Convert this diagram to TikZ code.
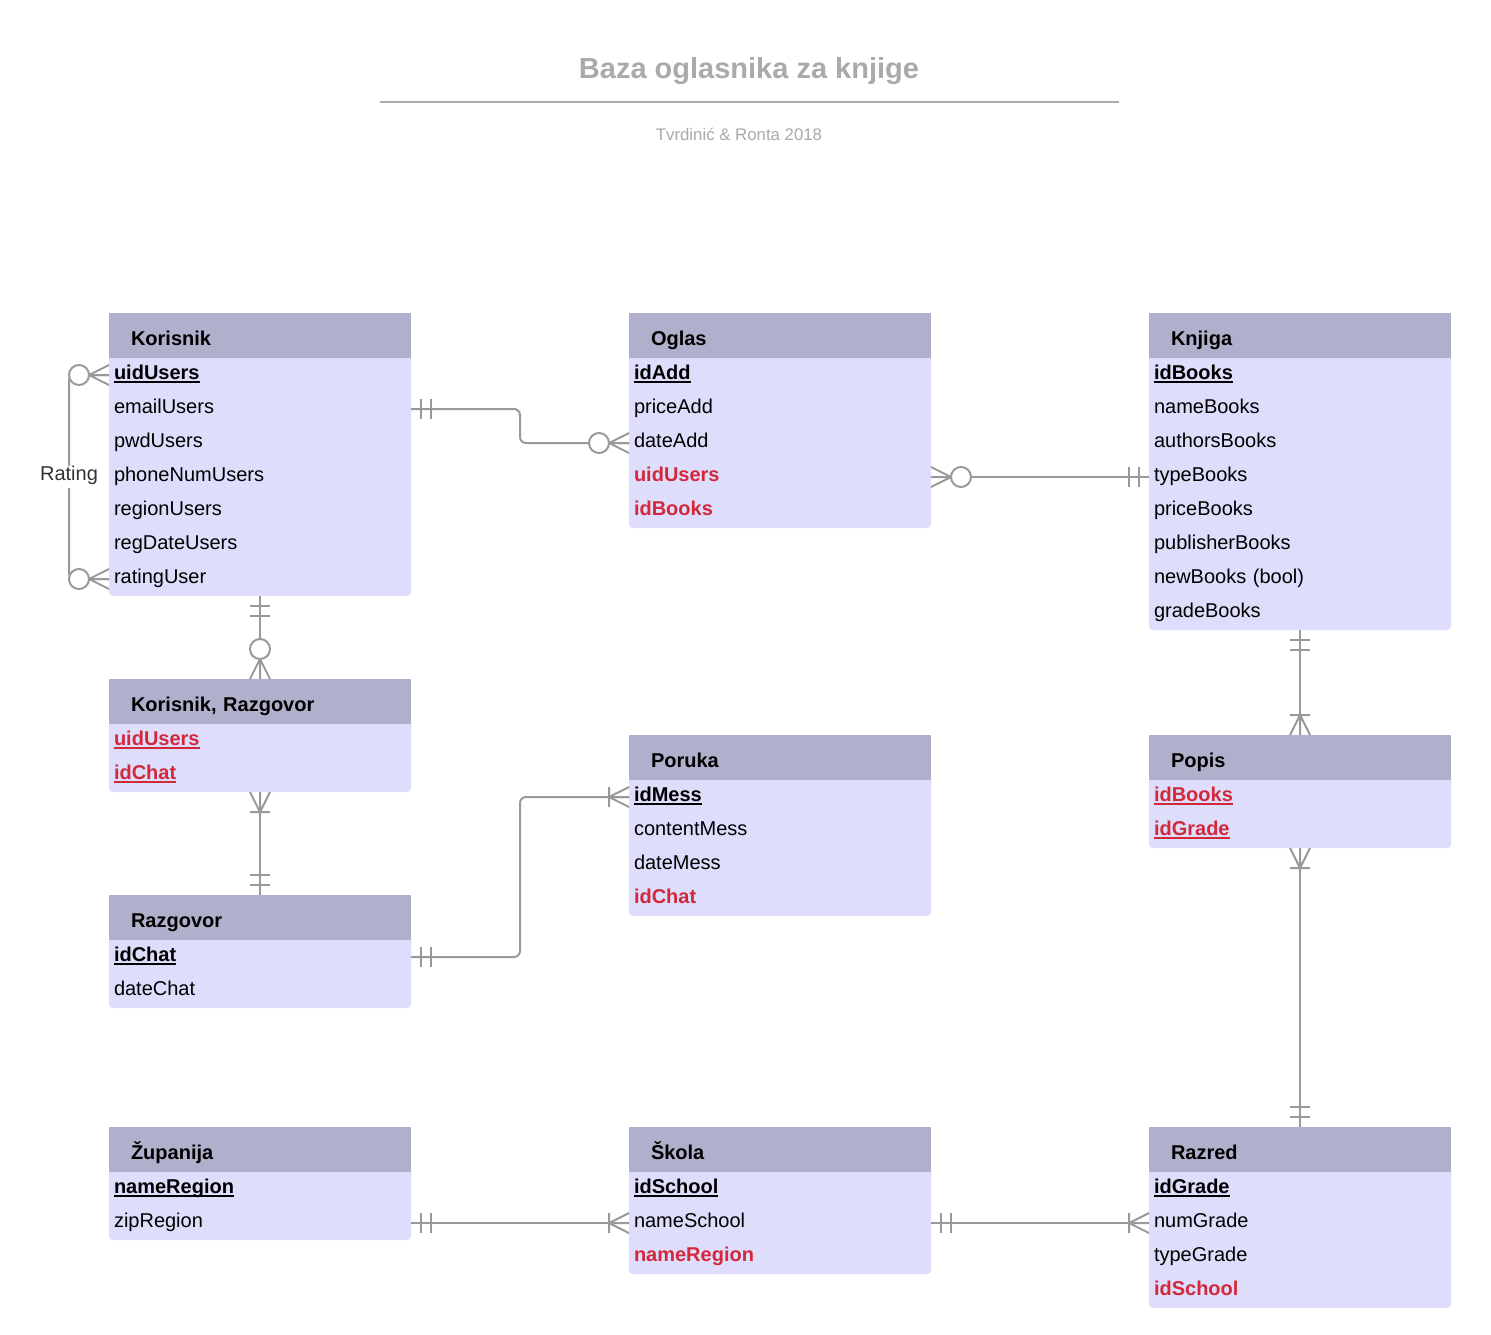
\documentclass[tikz,border=0pt]{standalone}
\usepackage{fontspec}
\setmainfont{Liberation Sans}
\usetikzlibrary{calc}
\definecolor{hdr}{RGB}{176,176,204}
\definecolor{bdy}{RGB}{222,222,252}
\definecolor{fkred}{RGB}{210,40,58}
\definecolor{cnc}{RGB}{153,153,153}
\definecolor{ttl}{RGB}{170,170,170}
\newcommand\myul[1]{\setbox0\hbox{#1}\rlap{\rule[-3.6pt]{\wd0}{1.7pt}}\box0}
\newcommand\pk[1]{\textbf{\myul{#1}}}
\newcommand\fk[1]{\textbf{\color{fkred}#1}}
\newcommand\pfk[1]{\textbf{\color{fkred}\myul{#1}}}
\tikzset{
  tblframe/.style={rectangle, fill=bdy, rounded corners=4pt, anchor=north west,
    minimum width=302pt, inner sep=0pt, outer sep=0pt},
  tblhead/.style={rectangle, fill=hdr, anchor=north west, minimum width=302pt,
    minimum height=45pt, text width=258pt, align=left, inner xsep=22pt, inner ysep=0pt,
    outer sep=0pt, text height=22pt, text depth=3pt, font=\fontsize{20}{24}\selectfont\bfseries},
  tblrow/.style={rectangle, anchor=north west, minimum width=302pt, minimum height=34pt,
    text width=292pt, align=left, inner xsep=5pt, inner ysep=0pt, outer sep=0pt,
    text height=14pt, text depth=6pt},
  connline/.style={draw=cnc, line width=2pt},
  zmany/.pic={\draw[connline] (20,0)--(0,10) (20,0)--(0,-10) (20,0)--(0,0);
    \draw[connline, fill=white] (30,0) circle[radius=10pt];},
  omany/.pic={\draw[connline] (20,0)--(0,10) (20,0)--(0,-10) (20,0)--(0,0) (20,10)--(20,-10);},
  oone/.pic={\draw[connline] (0,0)--(22,0) (10,10)--(10,-10) (20,10)--(20,-10);}
}
\newcommand\ertab[6]{%
  \pgfmathsetmacro\tblh{45+34*#5}%
  \node[tblframe, minimum height=\tblh pt] (#1) at (#2,#3) {};
  \node[tblhead] (#1-h) at (#2,#3) {#4};
  \foreach \rt [count=\ri] in {#6} {%
    \node[tblrow] (#1-\ri) at ({#2},{#3+45+34*(\ri-1)}) {\rt};
  }%
}
\begin{document}
\begin{tikzpicture}[x=1pt,y=-1pt, font=\fontsize{20}{24}\selectfont]
\useasboundingbox[fill=white] (0,0) rectangle (1491,1335);

% title
\node[anchor=base, text=ttl, font=\fontsize{29}{33}\selectfont\bfseries, inner sep=0pt] (title) at (749,78.5) {Baza oglasnika za knjige};
\coordinate (tl) at (380,102);
\coordinate (tr) at (1119,102);
\draw[draw=ttl, line width=2pt] (tl) -- (tr);
\node[anchor=base, text=ttl, font=\fontsize{16.8}{20}\selectfont, inner sep=0pt] (subtitle) at (739,140) {Tvrdinić \& Ronta 2018};

% tables
\ertab{kor}{109}{313}{Korisnik}{7}{\pk{uidUsers},emailUsers,pwdUsers,phoneNumUsers,regionUsers,regDateUsers,ratingUser}
\ertab{ogl}{629}{313}{Oglas}{5}{\pk{idAdd},priceAdd,dateAdd,\fk{uidUsers},\fk{idBooks}}
\ertab{knj}{1149}{313}{Knjiga}{8}{\pk{idBooks},nameBooks,authorsBooks,typeBooks,priceBooks,publisherBooks,newBooks (bool),gradeBooks}
\ertab{kr}{109}{679}{Korisnik, Razgovor}{2}{\pfk{uidUsers},\pfk{idChat}}
\ertab{por}{629}{735}{Poruka}{4}{\pk{idMess},contentMess,dateMess,\fk{idChat}}
\ertab{pop}{1149}{735}{Popis}{2}{\pfk{idBooks},\pfk{idGrade}}
\ertab{raz}{109}{895}{Razgovor}{2}{\pk{idChat},dateChat}
\ertab{zup}{109}{1127}{Županija}{2}{\pk{nameRegion},zipRegion}
\ertab{sko}{629}{1127}{Škola}{3}{\pk{idSchool},nameSchool,\fk{nameRegion}}
\ertab{rzd}{1149}{1127}{Razred}{4}{\pk{idGrade},numGrade,typeGrade,\fk{idSchool}}

% connectors
\draw[connline, rounded corners=6pt] (kor-1.west) -- ++(-40,0) |- (kor-7.west);
\node[fill=white, text=black!80, inner xsep=3pt, inner ysep=2pt, text height=12pt, text depth=6pt] (rating) at ($(kor-4.west)+(-40,0)$) {Rating};

\coordinate (m1) at ($(kor-2.east)!0.5!(ogl-3.west)$);
\draw[connline, rounded corners=6pt] (kor-2.east) -- (kor-2.east -| m1) -- (m1 |- ogl-3.west) -- (ogl-3.west);
\draw[connline] (ogl-4.east) -- (knj-4.west);
\draw[connline] (kor.south) -- (kr-h.north);
\draw[connline] (kr.south) -- (raz-h.north);
\coordinate (m2) at ($(raz-1.east)!0.5!(por-1.west)$);
\draw[connline, rounded corners=6pt] (raz-1.east) -- (raz-1.east -| m2) -- (m2 |- por-1.west) -- (por-1.west);
\draw[connline] (knj.south) -- (pop-h.north);
\draw[connline] (pop.south) -- (rzd-h.north);
\draw[connline] (zup-2.east) -- (sko-2.west);
\draw[connline] (sko-2.east) -- (rzd-2.west);

% end markers
\pic[rotate=180] at (kor-1.west) {zmany};
\pic[rotate=180] at (kor-7.west) {zmany};
\pic at (kor-2.east) {oone};
\pic[rotate=180] at (ogl-3.west) {zmany};
\pic at (ogl-4.east) {zmany};
\pic[rotate=180] at (knj-4.west) {oone};
\pic[rotate=-90] at (kor.south) {oone};
\pic[rotate=90] at (kr-h.north) {zmany};
\pic[rotate=-90] at (kr.south) {omany};
\pic[rotate=90] at (raz-h.north) {oone};
\pic at (raz-1.east) {oone};
\pic[rotate=180] at (por-1.west) {omany};
\pic[rotate=-90] at (knj.south) {oone};
\pic[rotate=90] at (pop-h.north) {omany};
\pic[rotate=-90] at (pop.south) {omany};
\pic[rotate=90] at (rzd-h.north) {oone};
\pic at (zup-2.east) {oone};
\pic[rotate=180] at (sko-2.west) {omany};
\pic at (sko-2.east) {oone};
\pic[rotate=180] at (rzd-2.west) {omany};
\end{tikzpicture}
\end{document}
